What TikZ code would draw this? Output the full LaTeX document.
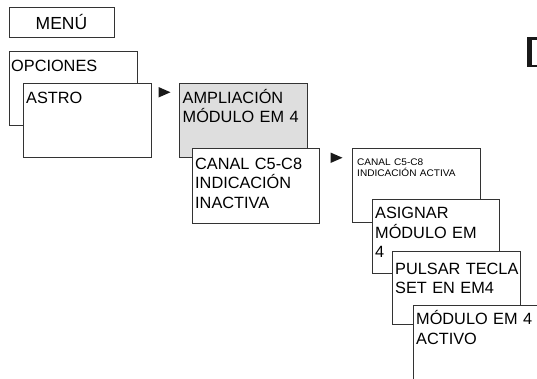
\documentclass[tikz,border=0pt]{standalone}
\usepackage{fontspec}
\usepackage{graphicx}
\setmainfont{Liberation Sans}
\newcommand{\widetxt}[1]{\scalebox{1.05}[1]{#1}}
\begin{document}
\begin{tikzpicture}[x=1pt,y=-1pt,
  box/.style={draw=black!80, line width=0.9pt, fill=white, minimum width=128pt, minimum height=74pt, anchor=north west, inner sep=0pt, outer sep=0pt},
  graybox/.style={box, fill=black!13},
  lbl/.style={anchor=base west, inner sep=0pt, text width=130pt, align=left, font=\fontsize{16.3}{19.5}\selectfont},
  lblc/.style={anchor=base, inner sep=0pt, font=\fontsize{17.5}{20}\selectfont},
  smalllbl/.style={anchor=base west, inner sep=0pt, text width=125pt, align=left, font=\fontsize{9.6}{11}\selectfont},
  arrowfill/.style={fill=black!90, draw=none}
]
\useasboundingbox (0,0) rectangle (537,378);
\begin{scope}
\clip (0,0) rectangle (537,378);
% MENU
\node[box, minimum width=105pt, minimum height=30pt] (menu) at (9,7) {};
\node[lblc] (menut) at ([shift={(0,22.5)}]menu.north) {MENÚ};
% OPCIONES
\node[box] (opc) at (9,51) {};
\node[lbl] (opct) at ([shift={(2,20)}]opc.north west) {OPCIONES};
% ASTRO
\node[box] (astro) at (23,83) {};
\node[lbl] (astrot) at ([shift={(3,20)}]astro.north west) {ASTRO};
% arrow 1
\coordinate (a1) at (158.5,87);
\fill[arrowfill] (a1) -- ++(0,10.5) -- ++(12,-5.25) -- cycle;
% AMPLIACION
\node[graybox] (ampl) at (179,83) {};
\node[lbl] (amplt) at ([shift={(3.5,20)}]ampl.north west) {AMPLIACIÓN\\MÓDULO EM 4};
% CANAL inactiva
\node[box, minimum width=127pt, minimum height=75pt] (cin) at (192,148) {};
\node[lbl] (cint) at ([shift={(3,21)}]cin.north west) {CANAL C5-C8\\INDICACIÓN\\INACTIVA};
% arrow 2
\coordinate (a2) at (330.5,152.5);
\fill[arrowfill] (a2) -- ++(0,10.5) -- ++(12,-5.25) -- cycle;
% CANAL activa
\node[box, minimum height=74pt] (cac) at (352,148) {};
\node[smalllbl] (cact) at ([shift={(5,17)}]cac.north west) {\widetxt{CANAL C5-C8}\\\widetxt{INDICACIÓN ACTIVA}};
% ASIGNAR
\node[box, minimum width=127pt] (asig) at (372,199) {};
\node[lbl] (asigt) at ([shift={(3,19.5)}]asig.north west) {ASIGNAR\\MÓDULO EM\\4};
% PULSAR
\node[box, minimum height=73pt] (puls) at (392,251) {};
\node[lbl] (pulst) at ([shift={(3,23)}]puls.north west) {PULSAR TECLA\\SET EN EM4};
% MODULO ACTIVO
\node[box, minimum height=80pt] (modact) at (413,305) {};
\node[lbl] (modactt) at ([shift={(3,19.5)}]modact.north west) {MÓDULO EM 4\\ACTIVO};
% cropped heading letter at top right
\fill[black!90] (527,37) rectangle (532,67);
\fill[black!90] (527,37) rectangle (537,39.5);
\fill[black!90] (527,64.5) rectangle (537,67);
\end{scope}
\end{tikzpicture}
\end{document}
